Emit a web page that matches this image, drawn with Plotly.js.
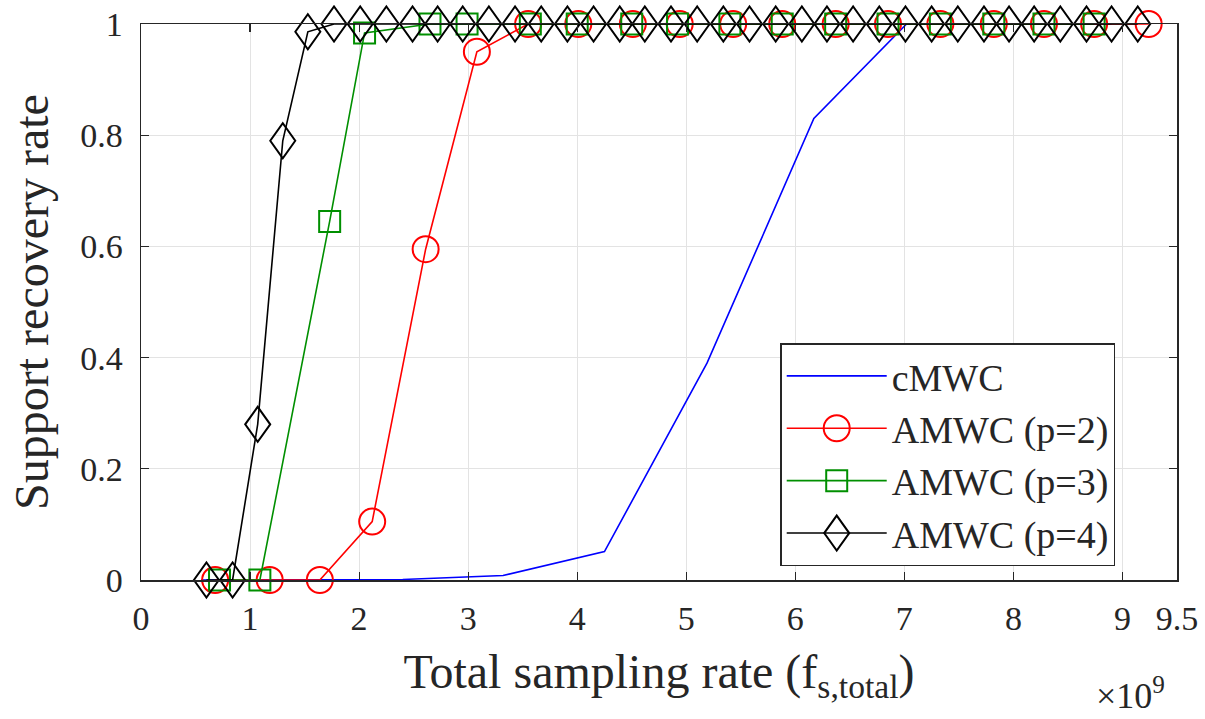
<!DOCTYPE html>
<html>
<head>
<meta charset="utf-8">
<script src="https://cdn.plot.ly/plotly-3.0.1.min.js"></script>
<style>
html,body{margin:0;padding:0;background:#fff;}
#wrap{position:relative;width:1205px;height:719px;}
#preload{position:absolute;left:0;top:0;z-index:0;font-family:'Liberation Serif';color:#fff;line-height:1;}
#chart{position:absolute;left:0;top:0;z-index:1;width:1205px;height:719px;}
</style>
</head>
<body>
<div id="wrap">
<div id="preload"><div style="font-size:30px">Aa0.8</div><div style="font-size:34px">Aa0.8</div><div style="font-size:37px">Aa0.8</div><div style="font-size:48px">Aa0.8</div></div>
<div id="chart"></div>
</div>
<script>
// cMWC
const cmwcX = [0.55, 1.47, 2.40, 3.32, 4.25, 5.19, 6.17, 7.02, 7.98, 8.90];
const cmwcY = [0, 0, 0.001, 0.008, 0.051, 0.39, 0.83, 1, 1, 1];
// AMWC p=2
const p2X = [0.68, 1.18, 1.64, 2.12, 2.61, 3.08, 3.55, 4.01, 4.51, 4.94, 5.43, 5.88, 6.37, 6.85, 7.33, 7.82, 8.28, 8.74, 9.24];
const p2Y = [0, 0, 0, 0.105, 0.595, 0.95, 1, 1, 1, 1, 1, 1, 1, 1, 1, 1, 1, 1, 1];
// AMWC p=3
const p3X = [0.72, 1.09, 1.73, 2.05, 2.65, 2.99, 3.57, 4.00, 4.50, 4.92, 5.40, 5.88, 6.37, 6.85, 7.33, 7.82, 8.28, 8.74];
const p3Y = [0, 0, 0.645, 0.984, 1, 1, 1, 1, 1, 1, 1, 1, 1, 1, 1, 1, 1, 1];
// AMWC p=4
const p4X = [0.60, 0.84, 1.07, 1.30, 1.53, 1.77, 2.01, 2.25, 2.49, 2.72, 2.95, 3.19, 3.43, 3.67, 3.91, 4.15, 4.39, 4.62, 4.86, 5.10, 5.34, 5.58, 5.82, 6.06, 6.29, 6.53, 6.77, 7.01, 7.25, 7.49, 7.73, 7.96, 8.19, 8.43, 8.67, 8.90, 9.14];
const p4Y = [0, 0, 0.28, 0.79, 0.986, 1, 1, 1, 1, 1, 1, 1, 1, 1, 1, 1, 1, 1, 1, 1, 1, 1, 1, 1, 1, 1, 1, 1, 1, 1, 1, 1, 1, 1, 1, 1, 1];

const seriesNames = ['cMWC', 'AMWC (p=2)', 'AMWC (p=3)', 'AMWC (p=4)'];
const xTickVals = [0, 1, 2, 3, 4, 5, 6, 7, 8, 9, 9.5];
const xTickText = ['0', '1', '2', '3', '4', '5', '6', '7', '8', '9', '9.5'];
const yTickVals = [0, 0.2, 0.4, 0.6, 0.8, 1];
const yTickText = ['0', '0.2', '0.4', '0.6', '0.8', '1'];

const SERIF = 'Liberation Serif';
const INK = '#262626';

const traces = [
  {x: cmwcX, y: cmwcY, name: seriesNames[0], mode: 'lines', cliponaxis: false, line: {color: '#0000ff', width: 1.6}},
  {x: p2X, y: p2Y, name: seriesNames[1], mode: 'lines+markers', cliponaxis: false, line: {color: '#ff0000', width: 1.6},
   marker: {symbol: 'circle-open', size: 26, color: '#ff0000', line: {width: 2, color: '#ff0000'}}},
  {x: p3X, y: p3Y, name: seriesNames[2], mode: 'lines+markers', cliponaxis: false, line: {color: '#008f00', width: 1.6},
   marker: {symbol: 'square-open', size: 21, color: '#008f00', line: {width: 2, color: '#008f00'}}},
  {x: p4X, y: p4Y, name: seriesNames[3], mode: 'lines+markers', cliponaxis: false, line: {color: '#000000', width: 1.6},
   marker: {symbol: 'diamond-open', size: 24, color: '#000000', line: {width: 2, color: '#000000'}}}
];

function axisBase() {
  return {
    showline: true, linecolor: INK, linewidth: 1.5, mirror: 'ticks',
    ticks: 'inside', ticklen: 8, tickwidth: 1.2, tickcolor: INK,
    showgrid: true, gridcolor: '#e3e3e3', gridwidth: 1, zeroline: false,
    tickfont: {family: SERIF, size: 34, color: INK}
  };
}

const xaxis = axisBase();
xaxis.range = [0, 9.5];
xaxis.tickmode = 'array';
xaxis.tickvals = xTickVals;
xaxis.ticktext = xTickText;
xaxis.ticklabelstandoff = 8;
xaxis.title = {text: 'Total sampling rate (f<sub>s,total</sub>)', font: {family: SERIF, size: 48, color: INK}, standoff: 18};

const yaxis = axisBase();
yaxis.range = [0, 1];
yaxis.tickmode = 'array';
yaxis.tickvals = yTickVals;
yaxis.ticktext = yTickText;
yaxis.ticklabelstandoff = 10;
yaxis.title = {text: 'Support recovery rate', font: {family: SERIF, size: 48, color: INK}, standoff: 16};

const layout = {
  width: 1205, height: 719,
  margin: {l: 141, r: 28, t: 24, b: 139},
  paper_bgcolor: '#ffffff', plot_bgcolor: '#ffffff',
  showlegend: true,
  legend: {
    x: 0.617, y: 0.426, xanchor: 'left', yanchor: 'top',
    bgcolor: '#ffffff', bordercolor: INK, borderwidth: 1.5,
    font: {family: SERIF, size: 38, color: INK},
    itemwidth: 100, tracegroupgap: 0
  },
  xaxis: xaxis,
  yaxis: yaxis,
  annotations: [{
    xref: 'paper', yref: 'paper', x: 0.99, y: -0.205, xanchor: 'right', yanchor: 'middle',
    text: '×10<sup>9</sup>', showarrow: false,
    font: {family: SERIF, size: 36, color: INK}
  }]
};

function restyle() {
  const gd = document.getElementById('chart');
  const diamond = 'M12.5,0L0,17.5L-12.5,0L0,-17.5Z';
  const circle = 'M13,0A13,13 0 1,1 0,-13A13,13 0 0,1 13,0Z';
  const square = 'M10.5,10.5H-10.5V-10.5H10.5Z';
  const traceGroups = gd.querySelectorAll('.scatterlayer .trace');
  if (traceGroups[3]) traceGroups[3].querySelectorAll('path.point').forEach(p => p.setAttribute('d', diamond));
  const legTraces = gd.querySelectorAll('.legend .traces');
  const legShapes = [null, circle, square, diamond];
  legTraces.forEach((t, i) => {
    if (legShapes[i]) t.querySelectorAll('path.scatterpts').forEach(p => p.setAttribute('d', legShapes[i]));
  });
}

function draw() {
  return Plotly.newPlot('chart', traces, layout, {staticPlot: true, displayModeBar: false}).then(restyle);
}
if (document.fonts && document.fonts.ready) {
  document.fonts.ready.then(draw, draw);
} else {
  draw();
}
</script>
</body>
</html>
